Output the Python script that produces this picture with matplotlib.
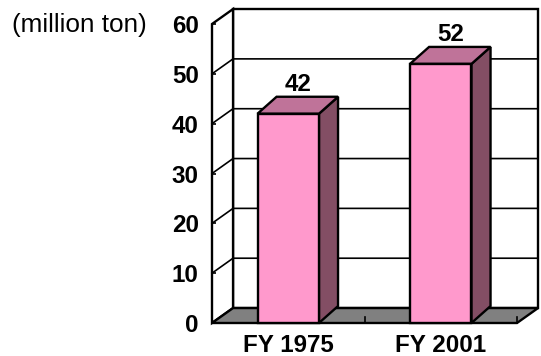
import matplotlib
matplotlib.use("Agg")
import matplotlib.pyplot as plt
from matplotlib.patches import Polygon

categories = ["FY 1975", "FY 2001"]
values = [42, 52]
y_ticks = [0, 10, 20, 30, 40, 50, 60]

plt.rcParams['font.family'] = ['Liberation Sans', 'DejaVu Sans']

W, H = 541, 356
fig = plt.figure(figsize=(W / 100, H / 100), dpi=100)
# front plane of the 3D box
ax = fig.add_axes([212 / W, 1 - 323 / H, 305 / W, 299 / H])
ax.set_xlim(0, 2)
ax.set_ylim(0, 60)
ax.patch.set_visible(False)

LW = 1.7
wall_dx, wall_dy = 0.138, 3.0
bar_dx, bar_dy = 0.125, 3.4
bar_w = 0.403
LABEL_SIZE = 17.4


def poly(pts, color, z):
    ax.add_patch(Polygon(pts, closed=True, facecolor=color, edgecolor='black',
                         linewidth=LW, joinstyle='miter', clip_on=False, zorder=z))


# back wall, side wall and floor
poly([(wall_dx, wall_dy), (2 + wall_dx, wall_dy), (2 + wall_dx, 60 + wall_dy),
      (wall_dx, 60 + wall_dy)], 'white', 1)
poly([(0, 0), (wall_dx, wall_dy), (wall_dx, 60 + wall_dy), (0, 60)], 'white', 1)
poly([(0, 0), (2, 0), (2 + wall_dx, wall_dy), (wall_dx, wall_dy)], '#808080', 2)

# gridlines run along the back wall and down the side wall
for t in y_ticks[1:-1]:
    ax.plot([0, wall_dx, 2 + wall_dx], [t, t + wall_dy, t + wall_dy], color='black',
            linewidth=1.2, clip_on=False, zorder=2)

# bars
for i, v in enumerate(values):
    x0 = i + 0.5 - bar_w / 2
    x1 = i + 0.5 + bar_w / 2
    poly([(x1, 0), (x1 + bar_dx, bar_dy), (x1 + bar_dx, v + bar_dy), (x1, v)], '#834e64', 3)
    poly([(x0, v), (x1, v), (x1 + bar_dx, v + bar_dy), (x0 + bar_dx, v + bar_dy)], '#bf7399', 3)
    poly([(x0, 0), (x1, 0), (x1, v), (x0, v)], '#ff99cc', 4)
    ax.text(i + 0.5 + bar_dx / 2, v + bar_dy + 0.2, str(v), ha='center', va='bottom',
            fontsize=LABEL_SIZE, fontweight='bold', clip_on=False, zorder=5)

ax.set_yticks(y_ticks)
ax.set_xticks([0.5, 1.5], categories)
ax.tick_params(axis='y', direction='in', length=3, width=1.2, pad=9.5, labelsize=LABEL_SIZE)
ax.tick_params(axis='x', length=0, pad=8, labelsize=LABEL_SIZE)
for lab in ax.get_xticklabels() + ax.get_yticklabels():
    lab.set_fontweight('bold')
for s in ax.spines.values():
    s.set_visible(False)

# small floor ticks between and after the categories
for x in [1, 2]:
    ax.plot([x, x], [0, 1.2], color='black', linewidth=1.2, clip_on=False, zorder=2)

fig.text(12 / W, 1 - 25 / H, "(million ton)", fontsize=18.8, va='center', ha='left')

fig.savefig("out.png", dpi=100)
